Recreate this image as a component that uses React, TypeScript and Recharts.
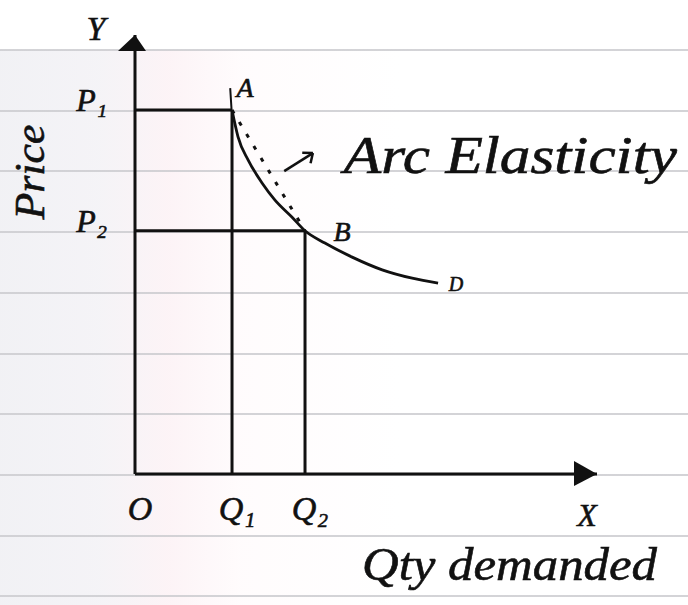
import React from 'react';
import {
  ComposedChart,
  Line,
  XAxis,
  YAxis,
  Scatter,
  ReferenceLine,
  ReferenceDot,
} from 'recharts';

// ---- data (abstract units on a 0..100 scale for both axes) ----
const quantityTicks = [0, 21.0, 36.8];
const quantityLabels = ['O', 'Q₁', 'Q₂'];
const priceTicks = [55.4, 82.9];
const priceLabels = ['P₂', 'P₁'];

const Q1 = 21.0;
const Q2 = 36.8;
const P1 = 82.9;
const P2 = 55.4;

// demand curve D through A (Q1, P1) and B (Q2, P2)
const demandQty = [21.0, 22.3, 24.5, 27.5, 30.3, 34.0, 36.8, 41.1, 47.0, 53.5, 60.0, 65.6];
const demandPrice = [82.9, 76.8, 71.5, 66.3, 62.4, 58.5, 55.4, 52.6, 49.4, 46.5, 44.6, 43.5];

// pen stroke just above A
const markQty = [20.6, 20.9];
const markPrice = [87.9, 82.9];

// small arrow pointing at the chord AB
const pointerTail = { x: 32.3, y: 69.0 };
const pointerTip = { x: 38.5, y: 73.1 };
const pointerBarbs = [
  { x: 36.2, y: 73.2 },
  { x: 38.0, y: 70.8 },
];

const AXIS_MAX = 100;

const demandData = demandQty.map((q, i) => ({ q, p: demandPrice[i] }));
const markData = markQty.map((q, i) => ({ q, p: markPrice[i] }));
const p1Guide = [
  { q: 0, p: P1 },
  { q: Q1, p: P1 },
];
const q1Guide = [
  { q: Q1, p: 0 },
  { q: Q1, p: P1 },
];
const p2Guide = [
  { q: 0, p: P2 },
  { q: Q2, p: P2 },
];
const q2Guide = [
  { q: Q2, p: 0 },
  { q: Q2, p: P2 },
];
const chord = [
  { q: Q1, p: P1 },
  { q: Q2, p: P2 },
];
const yArrow = [{ q: 0, p: AXIS_MAX }];
const xArrow = [{ q: AXIS_MAX, p: 0 }];

const W = 688;
const H = 605;
const INK = '#111111';
const HAND = "cursive, 'Liberation Serif', serif";

const inkText = {
  fill: INK,
  fontFamily: HAND,
  fontStyle: 'italic' as const,
  stroke: INK,
  strokeWidth: 0.6,
};

// text placed relative to a reference point
const note =
  (text: string, dx: number, dy: number, size: number, anchor = 'middle', length?: number) =>
  (props: any) => {
    const { x, y } = props.viewBox;
    return (
      <text
        x={x + dx}
        y={y + dy}
        fontSize={size}
        textAnchor={anchor}
        textLength={length}
        lengthAdjust={length ? 'spacingAndGlyphs' : undefined}
        {...inkText}
      >
        {text}
      </text>
    );
  };

const QuantityTick = (props: any) => {
  const { x, y, index } = props;
  return (
    <text x={x + 5} y={y + 46} fontSize={34} textAnchor="middle" {...inkText}>
      {quantityLabels[index]}
    </text>
  );
};

const PriceTick = (props: any) => {
  const { x, y, index } = props;
  return (
    <text x={x - 28} y={y + 1} fontSize={32} textAnchor="end" {...inkText}>
      {priceLabels[index]}
    </text>
  );
};

const PriceTitle = (props: any) => {
  const { x, y } = props.viewBox;
  const cx = x + 44;
  const cy = y + 137;
  return (
    <text
      x={cx}
      y={cy}
      fontSize={42}
      textAnchor="middle"
      textLength={95}
      lengthAdjust="spacingAndGlyphs"
      transform={`rotate(-90, ${cx}, ${cy})`}
      {...inkText}
    >
      Price
    </text>
  );
};

const QtyTitle = (props: any) => {
  const { x, y } = props.viewBox;
  return (
    <text
      x={x + 227}
      y={y + 106}
      fontSize={46}
      textAnchor="start"
      textLength={295}
      lengthAdjust="spacingAndGlyphs"
      {...inkText}
    >
      Qty demanded
    </text>
  );
};

const UpHead = (props: any) => {
  const { cx, cy } = props;
  return <polygon points={`${cx},${cy} ${cx - 17},${cy + 16} ${cx + 11},${cy + 16}`} fill={INK} />;
};

const RightHead = (props: any) => {
  const { cx, cy } = props;
  return <polygon points={`${cx},${cy} ${cx - 23},${cy - 13} ${cx - 23},${cy + 12}`} fill={INK} />;
};

const seg = { dot: false, activeDot: false, isAnimationActive: false, legendType: 'none' as const };

export default function App() {
  return (
    <div
      style={{
        position: 'absolute',
        left: 0,
        top: 0,
        width: W,
        height: H,
        background: '#ffffff',
        overflow: 'hidden',
      }}
    >
      {/* soft tint on the left half of the page */}
      <div
        style={{
          position: 'absolute',
          left: 0,
          top: 50,
          width: 400,
          height: H - 50,
          background:
            'linear-gradient(90deg, rgba(232,232,238,0.6) 0%, rgba(236,234,240,0.55) 25%, rgba(250,232,238,0.5) 42%, rgba(255,244,247,0.3) 60%, rgba(255,255,255,0) 100%)',
        }}
      />
      {/* ruled notebook lines */}
      <div
        style={{
          position: 'absolute',
          left: 0,
          top: 0,
          width: W,
          height: H,
          background:
            'repeating-linear-gradient(180deg, transparent 0px, transparent 49px, rgba(204,204,208,0.85) 49px, rgba(204,204,208,0.85) 51px, transparent 51px, transparent 60.7px)',
        }}
      />
      <div style={{ position: 'absolute', left: 0, top: 0 }}>
        <ComposedChart width={W} height={H} margin={{ top: 35, right: 91, bottom: 0, left: 0 }}>
          <XAxis
            type="number"
            dataKey="q"
            domain={[0, AXIS_MAX]}
            ticks={quantityTicks}
            tick={<QuantityTick />}
            tickLine={false}
            tickSize={0}
            tickMargin={0}
            height={131}
            axisLine={{ stroke: INK, strokeWidth: 3 }}
            label={<QtyTitle />}
          />
          <YAxis
            type="number"
            dataKey="p"
            domain={[0, AXIS_MAX]}
            ticks={priceTicks}
            tick={<PriceTick />}
            tickLine={false}
            tickSize={0}
            tickMargin={0}
            width={135}
            axisLine={{ stroke: INK, strokeWidth: 3 }}
            label={<PriceTitle />}
          />

          <Line data={p1Guide} dataKey="p" type="linear" stroke={INK} strokeWidth={3} {...seg} />
          <Line data={q1Guide} dataKey="p" type="linear" stroke={INK} strokeWidth={3} {...seg} />
          <Line data={p2Guide} dataKey="p" type="linear" stroke={INK} strokeWidth={3} {...seg} />
          <Line data={q2Guide} dataKey="p" type="linear" stroke={INK} strokeWidth={3} {...seg} />
          <Line data={markData} dataKey="p" type="linear" stroke={INK} strokeWidth={2} {...seg} />
          <Line
            data={chord}
            dataKey="p"
            type="linear"
            stroke={INK}
            strokeWidth={3}
            strokeDasharray="4 10"
            {...seg}
          />
          <Line data={demandData} dataKey="p" type="monotone" stroke={INK} strokeWidth={2.8} {...seg} />

          <ReferenceLine segment={[pointerTail, pointerTip]} stroke={INK} strokeWidth={2.5} />
          <ReferenceLine segment={[pointerBarbs[0], pointerTip]} stroke={INK} strokeWidth={2.5} />
          <ReferenceLine segment={[pointerBarbs[1], pointerTip]} stroke={INK} strokeWidth={2.5} />

          <Scatter data={yArrow} dataKey="p" shape={<UpHead />} isAnimationActive={false} />
          <Scatter data={xArrow} dataKey="p" shape={<RightHead />} isAnimationActive={false} />

          <ReferenceDot x={0} y={AXIS_MAX} r={0} fill="none" stroke="none" label={note('Y', -39, 5, 34)} />
          <ReferenceDot x={AXIS_MAX} y={0} r={0} fill="none" stroke="none" label={note('X', -10, 52, 32)} />
          <ReferenceDot x={Q1} y={P1} r={0} fill="none" stroke="none" label={note('A', 13, -13, 28)} />
          <ReferenceDot x={Q2} y={P2} r={0} fill="none" stroke="none" label={note('B', 37, 10, 28)} />
          <ReferenceDot
            x={demandQty[demandQty.length - 1]}
            y={demandPrice[demandPrice.length - 1]}
            r={0}
            fill="none"
            stroke="none"
            label={note('D', 18, 8, 20)}
          />
          <ReferenceDot
            x={pointerTip.x}
            y={pointerTip.y}
            r={0}
            fill="none"
            stroke="none"
            label={note('Arc Elasticity', 31, 20, 52, 'start', 333)}
          />
        </ComposedChart>
      </div>
    </div>
  );
}
